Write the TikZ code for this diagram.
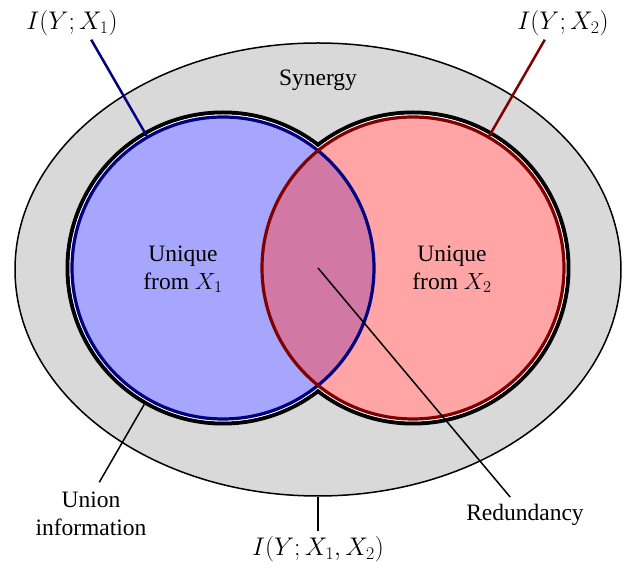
\RequirePackage{fix-cm}
\documentclass[tikz,border=0pt]{standalone}
\usepackage{fontspec}
\setmainfont{Liberation Serif}
\usetikzlibrary{shapes.geometric}
\definecolor{navyline}{RGB}{0,0,128}
\definecolor{dredline}{RGB}{128,0,0}
\begin{document}
\begin{tikzpicture}[x=1pt,y=1pt,
  every node/.style={font=\fontsize{23.5}{28}\selectfont, inner sep=3pt},
  mathlab/.style={font=\fontsize{25.5}{30}\selectfont},
  disk/.style={circle, inner sep=0pt, minimum size=302},
  outerring/.style={circle, inner sep=0pt, minimum size=311, draw=black, line width=4},
  whitedisk/.style={circle, inner sep=0pt, minimum size=307, fill=white},
  lab/.style={align=center}]
\useasboundingbox (0,0) rectangle (625,568);
% big ellipse
\node[ellipse, inner sep=0pt, minimum width=606, minimum height=453,
      fill=black!15, draw=black, line width=1.5] (syn) at (318,298.5) {};
% union outline
\node[outerring] (o1) at (223,300) {};
\node[outerring] (o2) at (413,300) {};
\node[whitedisk] (w1) at (223,300) {};
\node[whitedisk] (w2) at (413,300) {};
% fills
\node[disk, fill=blue!35] (fb) at (223,300) {};
\node[disk, fill=red!70, fill opacity=0.5] (fr) at (413,300) {};
% outlines
\node[disk, draw=navyline, line width=3.2] (c1) at (223,300) {};
\node[disk, draw=dredline, line width=3.2] (c2) at (413,300) {};
\coordinate (mid) at (318,300);
% texts
\node (synt) at (318,488) {Synergy};
\node[lab] (u1) at (183,299) {Unique\\from $X_1$};
\node[lab] (u2) at (452,299) {Unique\\from $X_2$};
\node[mathlab] (l1) at (72,545) {$I(Y;X_1)$};
\node[mathlab] (l2) at (563,545) {$I(Y;X_2)$};
\node[lab] (un) at (91,54) {Union\\information};
\node (red) at (525,53) {Redundancy};
\node[mathlab] (joint) at (318,19) {$I(Y;X_1,X_2)$};
% connectors
\draw[navyline, line width=2.5] (c1.120) -- ++(120:111);
\draw[dredline, line width=2.5] (c2.60) -- ++(60:111);
\draw[black, line width=1.5] (o1.240) -- ++(240:90);
\draw[black, line width=1.5] (syn.south) -- ++(0,-34);
\draw[black, line width=1.5] (mid) -- ++(-50:299);
\end{tikzpicture}
\end{document}
